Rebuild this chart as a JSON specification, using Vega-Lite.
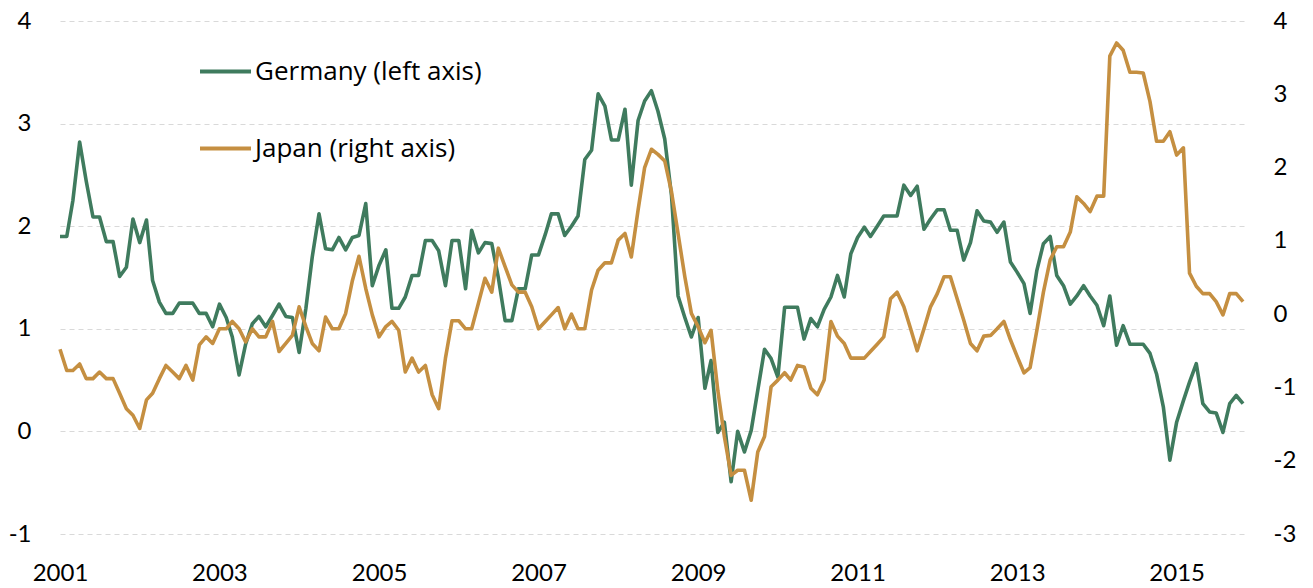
{
  "$schema": "https://vega.github.io/schema/vega-lite/v6.json",
  "width": 1185,
  "height": 513,
  "autosize": {"type": "none"},
  "padding": {"left": 60, "top": 21, "right": 68, "bottom": 54},
  "background": "#ffffff",
  "config": {
    "view": {"stroke": null},
    "font": "Lato",
    "axis": {"labelFont": "Lato", "labelFontSize": 24, "labelColor": "#000000", "domain": false, "ticks": false, "tickSize": 0, "title": null},
    "legend": {"labelFont": "Open Sans", "labelFontSize": 26, "labelColor": "#000000"}
  },
  "data": {"values": [
    {"date":"2001-01-01","germany":1.9,"japan":-0.48},
    {"date":"2001-02-01","germany":1.9,"japan":-0.77},
    {"date":"2001-03-01","germany":2.25,"japan":-0.77},
    {"date":"2001-04-01","germany":2.82,"japan":-0.68},
    {"date":"2001-05-01","germany":2.44,"japan":-0.88},
    {"date":"2001-06-01","germany":2.09,"japan":-0.88},
    {"date":"2001-07-01","germany":2.09,"japan":-0.79},
    {"date":"2001-08-01","germany":1.85,"japan":-0.88},
    {"date":"2001-09-01","germany":1.85,"japan":-0.88},
    {"date":"2001-10-01","germany":1.51,"japan":-1.08},
    {"date":"2001-11-01","germany":1.6,"japan":-1.29},
    {"date":"2001-12-01","germany":2.07,"japan":-1.38},
    {"date":"2002-01-01","germany":1.84,"japan":-1.56},
    {"date":"2002-02-01","germany":2.06,"japan":-1.17},
    {"date":"2002-03-01","germany":1.47,"japan":-1.08},
    {"date":"2002-04-01","germany":1.26,"japan":-0.88},
    {"date":"2002-05-01","germany":1.15,"japan":-0.7},
    {"date":"2002-06-01","germany":1.15,"japan":-0.79},
    {"date":"2002-07-01","germany":1.25,"japan":-0.88},
    {"date":"2002-08-01","germany":1.25,"japan":-0.7},
    {"date":"2002-09-01","germany":1.25,"japan":-0.9},
    {"date":"2002-10-01","germany":1.15,"japan":-0.42},
    {"date":"2002-11-01","germany":1.15,"japan":-0.31},
    {"date":"2002-12-01","germany":1.02,"japan":-0.4},
    {"date":"2003-01-01","germany":1.24,"japan":-0.2},
    {"date":"2003-02-01","germany":1.11,"japan":-0.2},
    {"date":"2003-03-01","germany":0.92,"japan":-0.1},
    {"date":"2003-04-01","germany":0.55,"japan":-0.2},
    {"date":"2003-05-01","germany":0.85,"japan":-0.38},
    {"date":"2003-06-01","germany":1.05,"japan":-0.2},
    {"date":"2003-07-01","germany":1.12,"japan":-0.31},
    {"date":"2003-08-01","germany":1.02,"japan":-0.31},
    {"date":"2003-09-01","germany":1.13,"japan":-0.1},
    {"date":"2003-10-01","germany":1.24,"japan":-0.51},
    {"date":"2003-11-01","germany":1.12,"japan":-0.4},
    {"date":"2003-12-01","germany":1.11,"japan":-0.29},
    {"date":"2004-01-01","germany":0.77,"japan":0.1},
    {"date":"2004-02-01","germany":1.2,"japan":-0.17},
    {"date":"2004-03-01","germany":1.7,"japan":-0.4},
    {"date":"2004-04-01","germany":2.12,"japan":-0.5},
    {"date":"2004-05-01","germany":1.78,"japan":-0.04},
    {"date":"2004-06-01","germany":1.77,"japan":-0.2},
    {"date":"2004-07-01","germany":1.89,"japan":-0.2},
    {"date":"2004-08-01","germany":1.77,"japan":0.01},
    {"date":"2004-09-01","germany":1.89,"japan":0.46},
    {"date":"2004-10-01","germany":1.91,"japan":0.79},
    {"date":"2004-11-01","germany":2.22,"japan":0.35},
    {"date":"2004-12-01","germany":1.42,"japan":-0.01},
    {"date":"2005-01-01","germany":1.62,"japan":-0.31},
    {"date":"2005-02-01","germany":1.77,"japan":-0.17},
    {"date":"2005-03-01","germany":1.2,"japan":-0.1},
    {"date":"2005-04-01","germany":1.2,"japan":-0.22},
    {"date":"2005-05-01","germany":1.31,"japan":-0.79},
    {"date":"2005-06-01","germany":1.52,"japan":-0.6},
    {"date":"2005-07-01","germany":1.52,"japan":-0.79},
    {"date":"2005-08-01","germany":1.86,"japan":-0.7},
    {"date":"2005-09-01","germany":1.86,"japan":-1.1},
    {"date":"2005-10-01","germany":1.76,"japan":-1.29},
    {"date":"2005-11-01","germany":1.42,"japan":-0.6},
    {"date":"2005-12-01","germany":1.86,"japan":-0.09},
    {"date":"2006-01-01","germany":1.86,"japan":-0.09},
    {"date":"2006-02-01","germany":1.39,"japan":-0.2},
    {"date":"2006-03-01","germany":1.96,"japan":-0.2},
    {"date":"2006-04-01","germany":1.74,"japan":0.15},
    {"date":"2006-05-01","germany":1.84,"japan":0.49},
    {"date":"2006-06-01","germany":1.83,"japan":0.3},
    {"date":"2006-07-01","germany":1.5,"japan":0.9},
    {"date":"2006-08-01","germany":1.08,"japan":0.65},
    {"date":"2006-09-01","germany":1.08,"japan":0.4},
    {"date":"2006-10-01","germany":1.39,"japan":0.3},
    {"date":"2006-11-01","germany":1.39,"japan":0.3},
    {"date":"2006-12-01","germany":1.72,"japan":0.1},
    {"date":"2007-01-01","germany":1.72,"japan":-0.2},
    {"date":"2007-02-01","germany":1.92,"japan":-0.1},
    {"date":"2007-03-01","germany":2.12,"japan":-0.01},
    {"date":"2007-04-01","germany":2.12,"japan":0.09},
    {"date":"2007-05-01","germany":1.91,"japan":-0.2},
    {"date":"2007-06-01","germany":2.0,"japan":0.0},
    {"date":"2007-07-01","germany":2.1,"japan":-0.2},
    {"date":"2007-08-01","germany":2.65,"japan":-0.2},
    {"date":"2007-09-01","germany":2.74,"japan":0.33},
    {"date":"2007-10-01","germany":3.29,"japan":0.6},
    {"date":"2007-11-01","germany":3.17,"japan":0.7},
    {"date":"2007-12-01","germany":2.84,"japan":0.7},
    {"date":"2008-01-01","germany":2.84,"japan":1.01},
    {"date":"2008-02-01","germany":3.14,"japan":1.1},
    {"date":"2008-03-01","germany":2.4,"japan":0.78},
    {"date":"2008-04-01","germany":3.03,"japan":1.42},
    {"date":"2008-05-01","germany":3.22,"japan":2.0},
    {"date":"2008-06-01","germany":3.32,"japan":2.25},
    {"date":"2008-07-01","germany":3.12,"japan":2.18},
    {"date":"2008-08-01","germany":2.85,"japan":2.09},
    {"date":"2008-09-01","germany":2.3,"japan":1.67},
    {"date":"2008-10-01","germany":1.32,"japan":1.1},
    {"date":"2008-11-01","germany":1.11,"japan":0.51},
    {"date":"2008-12-01","germany":0.92,"japan":0.01},
    {"date":"2009-01-01","germany":1.11,"japan":-0.17},
    {"date":"2009-02-01","germany":0.42,"japan":-0.39},
    {"date":"2009-03-01","germany":0.69,"japan":-0.22},
    {"date":"2009-04-01","germany":-0.01,"japan":-1.04},
    {"date":"2009-05-01","germany":0.09,"japan":-1.67},
    {"date":"2009-06-01","germany":-0.49,"japan":-2.2},
    {"date":"2009-07-01","germany":0.0,"japan":-2.13},
    {"date":"2009-08-01","germany":-0.2,"japan":-2.13},
    {"date":"2009-09-01","germany":0.01,"japan":-2.54},
    {"date":"2009-10-01","germany":0.4,"japan":-1.88},
    {"date":"2009-11-01","germany":0.8,"japan":-1.67},
    {"date":"2009-12-01","germany":0.71,"japan":-0.99},
    {"date":"2010-01-01","germany":0.53,"japan":-0.9},
    {"date":"2010-02-01","germany":1.21,"japan":-0.8},
    {"date":"2010-03-01","germany":1.21,"japan":-0.9},
    {"date":"2010-04-01","germany":1.21,"japan":-0.7},
    {"date":"2010-05-01","germany":0.9,"japan":-0.72},
    {"date":"2010-06-01","germany":1.1,"japan":-1.01},
    {"date":"2010-07-01","germany":1.02,"japan":-1.1},
    {"date":"2010-08-01","germany":1.19,"japan":-0.9},
    {"date":"2010-09-01","germany":1.31,"japan":-0.1},
    {"date":"2010-10-01","germany":1.52,"japan":-0.3},
    {"date":"2010-11-01","germany":1.31,"japan":-0.4},
    {"date":"2010-12-01","germany":1.73,"japan":-0.6},
    {"date":"2011-01-01","germany":1.89,"japan":-0.6},
    {"date":"2011-02-01","germany":1.99,"japan":-0.6},
    {"date":"2011-03-01","germany":1.9,"japan":-0.51},
    {"date":"2011-04-01","germany":2.0,"japan":-0.41},
    {"date":"2011-05-01","germany":2.1,"japan":-0.31},
    {"date":"2011-06-01","germany":2.1,"japan":0.21},
    {"date":"2011-07-01","germany":2.1,"japan":0.3},
    {"date":"2011-08-01","germany":2.4,"japan":0.1},
    {"date":"2011-09-01","germany":2.3,"japan":-0.2},
    {"date":"2011-10-01","germany":2.39,"japan":-0.5},
    {"date":"2011-11-01","germany":1.97,"japan":-0.2},
    {"date":"2011-12-01","germany":2.07,"japan":0.1},
    {"date":"2012-01-01","germany":2.16,"japan":0.28},
    {"date":"2012-02-01","germany":2.16,"japan":0.51},
    {"date":"2012-03-01","germany":1.96,"japan":0.51},
    {"date":"2012-04-01","germany":1.96,"japan":0.21},
    {"date":"2012-05-01","germany":1.67,"japan":-0.08},
    {"date":"2012-06-01","germany":1.84,"japan":-0.4},
    {"date":"2012-07-01","germany":2.15,"japan":-0.5},
    {"date":"2012-08-01","germany":2.05,"japan":-0.3},
    {"date":"2012-09-01","germany":2.04,"japan":-0.29},
    {"date":"2012-10-01","germany":1.94,"japan":-0.2},
    {"date":"2012-11-01","germany":2.04,"japan":-0.1},
    {"date":"2012-12-01","germany":1.65,"japan":-0.35},
    {"date":"2013-01-01","germany":1.55,"japan":-0.58},
    {"date":"2013-02-01","germany":1.44,"japan":-0.8},
    {"date":"2013-03-01","germany":1.15,"japan":-0.73},
    {"date":"2013-04-01","germany":1.57,"japan":-0.22},
    {"date":"2013-05-01","germany":1.83,"japan":0.3},
    {"date":"2013-06-01","germany":1.9,"japan":0.74},
    {"date":"2013-07-01","germany":1.52,"japan":0.92},
    {"date":"2013-08-01","germany":1.42,"japan":0.92},
    {"date":"2013-09-01","germany":1.24,"japan":1.12},
    {"date":"2013-10-01","germany":1.32,"japan":1.6},
    {"date":"2013-11-01","germany":1.42,"japan":1.51},
    {"date":"2013-12-01","germany":1.32,"japan":1.4},
    {"date":"2014-01-01","germany":1.23,"japan":1.61},
    {"date":"2014-02-01","germany":1.03,"japan":1.61},
    {"date":"2014-03-01","germany":1.32,"japan":3.52},
    {"date":"2014-04-01","germany":0.84,"japan":3.7},
    {"date":"2014-05-01","germany":1.03,"japan":3.6},
    {"date":"2014-06-01","germany":0.85,"japan":3.3},
    {"date":"2014-07-01","germany":0.85,"japan":3.3},
    {"date":"2014-08-01","germany":0.85,"japan":3.29},
    {"date":"2014-09-01","germany":0.76,"japan":2.9},
    {"date":"2014-10-01","germany":0.56,"japan":2.36},
    {"date":"2014-11-01","germany":0.24,"japan":2.36},
    {"date":"2014-12-01","germany":-0.28,"japan":2.49},
    {"date":"2015-01-01","germany":0.09,"japan":2.17},
    {"date":"2015-02-01","germany":0.3,"japan":2.27},
    {"date":"2015-03-01","germany":0.48,"japan":0.56},
    {"date":"2015-04-01","germany":0.66,"japan":0.38},
    {"date":"2015-05-01","germany":0.27,"japan":0.28},
    {"date":"2015-06-01","germany":0.19,"japan":0.28},
    {"date":"2015-07-01","germany":0.18,"japan":0.17},
    {"date":"2015-08-01","germany":-0.01,"japan":-0.01},
    {"date":"2015-09-01","germany":0.27,"japan":0.28},
    {"date":"2015-10-01","germany":0.35,"japan":0.28},
    {"date":"2015-11-01","germany":0.27,"japan":0.17}
  ]},
  "encoding": {
    "x": {
      "field": "date",
      "type": "temporal",
      "scale": {"type": "utc", "domain": [{"year": 2001, "month": 1, "date": 1, "utc": true}, {"year": 2015, "month": 11, "date": 10, "utc": true}]},
      "axis": {
        "values": [{"year": 2001, "utc": true}, {"year": 2003, "utc": true}, {"year": 2005, "utc": true}, {"year": 2007, "utc": true}, {"year": 2009, "utc": true}, {"year": 2011, "utc": true}, {"year": 2013, "utc": true}, {"year": 2015, "utc": true}],
        "format": "%Y",
        "formatType": "utc",
        "grid": false,
        "labelPadding": 27,
        "labelOverlap": false,
        "labelFlush": false
      }
    }
  },
  "layer": [
    {
      "mark": {"type": "line", "strokeWidth": 3.6, "strokeJoin": "round"},
      "encoding": {
        "y": {
          "field": "germany",
          "type": "quantitative",
          "scale": {"domain": [-1, 4], "nice": false, "zero": false},
          "axis": {"orient": "left", "values": [-1, 0, 1, 2, 3, 4], "grid": true, "gridDash": [5, 4], "gridColor": "#D9D9D9", "gridWidth": 1, "labelPadding": 29, "labelExpr": "datum.value < 0 ? '-' + abs(datum.value) : datum.label"}
        },
        "color": {
          "datum": "Germany (left axis)",
          "type": "nominal",
          "scale": {"domain": ["Germany (left axis)", "Japan (right axis)"], "range": ["#3F7B5E", "#C58F41"]},
          "legend": {
            "title": null,
            "orient": "none",
            "legendX": 138,
            "legendY": 23,
            "symbolType": "stroke",
            "symbolSize": 2601,
            "symbolStrokeWidth": 4,
            "labelOffset": 2,
            "rowPadding": 36,
            "padding": 0,
            "labelLimit": 400
          }
        }
      }
    },
    {
      "mark": {"type": "line", "strokeWidth": 3.6, "strokeJoin": "round"},
      "encoding": {
        "y": {
          "field": "japan",
          "type": "quantitative",
          "scale": {"domain": [-3, 4], "nice": false, "zero": false},
          "axis": {"orient": "right", "values": [-3, -2, -1, 0, 1, 2, 3, 4], "grid": false, "labelPadding": 28, "labelExpr": "datum.value < 0 ? '-' + abs(datum.value) : datum.label"}
        },
        "color": {"datum": "Japan (right axis)", "type": "nominal"}
      }
    }
  ],
  "resolve": {"scale": {"y": "independent"}}
}
